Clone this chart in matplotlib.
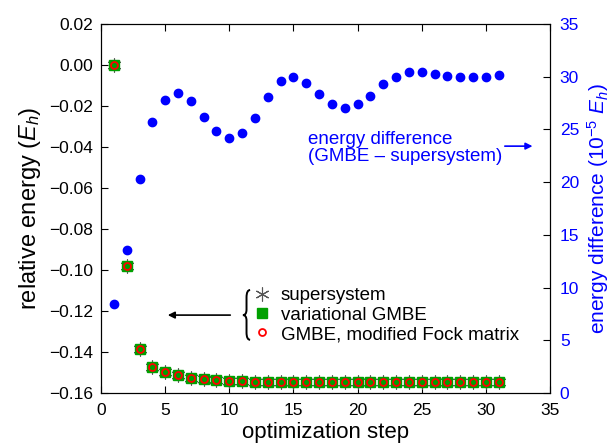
import numpy as np
import matplotlib.pyplot as plt
from matplotlib.path import Path
from matplotlib.patches import PathPatch

plt.rcParams['font.family'] = ['Liberation Sans', 'DejaVu Sans']
plt.rcParams['mathtext.fontset'] = 'custom'
plt.rcParams['mathtext.it'] = 'Liberation Sans:italic'
plt.rcParams['mathtext.rm'] = 'Liberation Sans'

# data
steps = np.arange(1, 32)
rel_energy = [0.0, -0.0979, -0.1387, -0.1475, -0.1498, -0.1514, -0.1525, -0.1532,
              -0.1537, -0.1541, -0.1543, -0.1545, -0.1546, -0.1547, -0.1547, -0.1548,
              -0.1548, -0.1548, -0.1548, -0.1548, -0.1548, -0.1548, -0.1548, -0.1548,
              -0.1548, -0.1548, -0.1548, -0.1548, -0.1548, -0.1548, -0.1548]
energy_diff = [8.47, 13.57, 20.3, 25.68, 27.8, 28.43, 27.7, 26.19, 24.89, 24.22,
               24.64, 26.09, 28.11, 29.6, 29.98, 29.44, 28.4, 27.39, 27.07, 27.39,
               28.2, 29.29, 30.01, 30.49, 30.49, 30.3, 30.08, 29.98, 29.98, 29.98, 30.2]
left_ticks = np.arange(-0.16, 0.021, 0.02)

blue = '#0000ff'

fig = plt.figure(figsize=(6.16, 4.45), dpi=100)
ax = fig.add_axes([0.164, 0.117, 0.729, 0.829])
ax2 = ax.twinx()

# left axis: the three (overlapping) energy curves
ax.plot(steps, rel_energy, ls='none', marker=(6, 2, 0), ms=10, mec='#555555', mew=0.8,
        label='supersystem')
ax.plot(steps, rel_energy, ls='none', marker='s', ms=7, color='#00a000',
        label='variational GMBE')
ax.plot(steps, rel_energy, ls='none', marker='o', ms=5, mfc='none', mec='red', mew=1.3,
        label='GMBE, modified Fock matrix')

# right axis: energy difference
ax2.plot(steps, energy_diff, ls='none', marker='o', ms=6, color=blue)

ax.set_xlim(0, 35)
ax.set_ylim(-0.16, 0.02)
ax.set_xticks(np.arange(0, 36, 5))
ax.set_yticks(left_ticks)
ax.set_yticklabels([f'{v:.2f}'.replace('-', '\u2212') if abs(v) > 1e-9 else '0.00'
                    for v in left_ticks])
ax2.set_ylim(0, 35)
ax2.set_yticks(np.arange(0, 36, 5))

ax.tick_params(axis='x', direction='in', labelsize=12.5, length=5, top=True, pad=7)
ax.tick_params(axis='y', direction='in', labelsize=12.5, length=5, right=False, pad=6)
ax2.tick_params(axis='y', direction='in', labelsize=12.5, length=5, labelcolor=blue,
                color='black', pad=7)

ax.set_xlabel('optimization step', fontsize=16, labelpad=3)
ax.set_ylabel('relative energy ($E_h$)', fontsize=17, labelpad=4)
ax2.set_ylabel('energy difference (10$^{-5}$ $E_h$)', fontsize=15, color=blue,
               labelpad=4)

# legend with a brace and arrow pointing to the left axis
ax.legend(loc='center left', bbox_to_anchor=(0.338, 0.211), frameon=False,
          fontsize=13.5, handlelength=1.0, handletextpad=0.5, labelspacing=0.12,
          borderpad=0, borderaxespad=0)
bx0, bx1, bxt = 0.332, 0.324, 0.316
by0, bym, by1 = 0.279, 0.211, 0.144
verts = [(bx0, by0), (bx1, by0), (bx1, by0 - 0.02), (bx1, bym + 0.015),
         (bx1, bym), (bxt, bym), (bx1, bym), (bx1, bym - 0.015),
         (bx1, by1 + 0.02), (bx1, by1), (bx0, by1)]
codes = [Path.MOVETO, Path.CURVE3, Path.CURVE3, Path.LINETO,
         Path.CURVE3, Path.CURVE3, Path.CURVE3, Path.CURVE3,
         Path.LINETO, Path.CURVE3, Path.CURVE3]
ax.add_patch(PathPatch(Path(verts, codes), fc='none', ec='black', lw=1.4,
                       transform=ax.transAxes, clip_on=False))
ax.annotate('', xy=(0.1425, 0.211), xytext=(0.294, 0.211), xycoords='axes fraction',
            arrowprops=dict(arrowstyle='-|>', color='black', lw=1.2))

ax2.text(0.461, 0.664, 'energy difference\n(GMBE \u2013 supersystem)',
         transform=ax.transAxes, fontsize=13.5, color=blue, va='center',
         linespacing=0.95)
ax.annotate('', xy=(0.967, 0.669), xytext=(0.893, 0.669), xycoords='axes fraction',
            arrowprops=dict(arrowstyle='-|>', color=blue, lw=1.2))

fig.savefig('out.png', dpi=100)
